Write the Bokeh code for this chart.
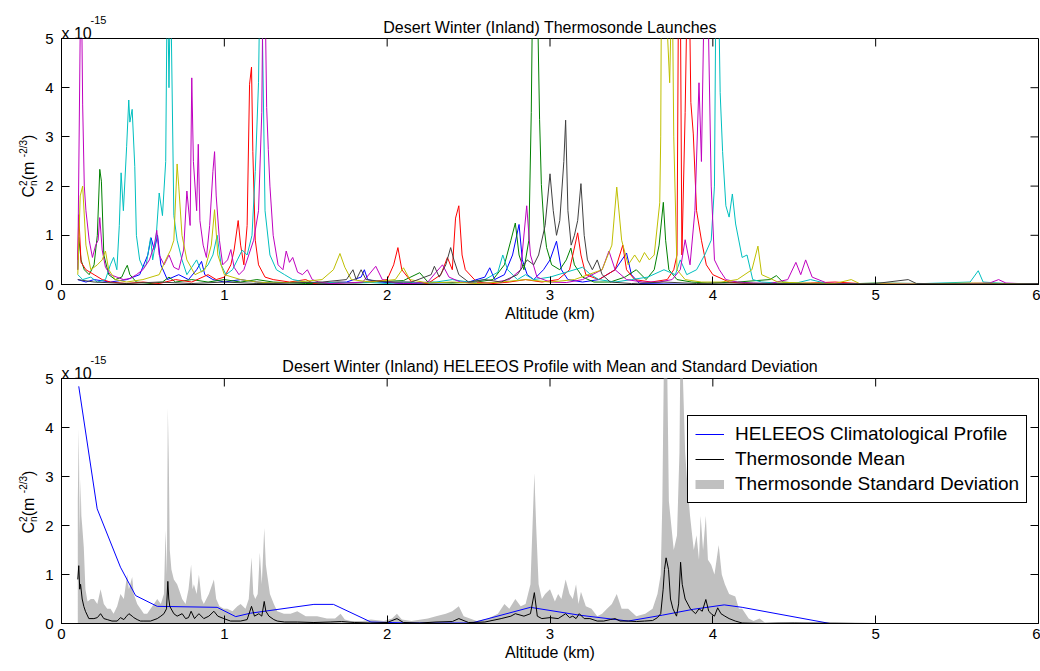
import math
from bokeh.plotting import figure
from bokeh.models import Range1d, FixedTicker, Legend, LegendItem, GridBox
from bokeh.core.properties import value
from bokeh.embed import file_html
from bokeh.resources import INLINE

# ---------------- data: (altitude km, Cn2 in units of 1e-15 m^-2/3) ----------------
TICKS_X = [0, 1, 2, 3, 4, 5, 6]
TICKS_Y = [0, 1, 2, 3, 4, 5]

TITLE_TOP = "Desert Winter (Inland) Thermosonde Launches"
TITLE_BOT = "Desert Winter (Inland) HELEEOS Profile with Mean and Standard Deviation"
X_LABEL = "Altitude (km)"

blue_launch = [(0.10,0.10),(0.15,0.05),(0.20,0.10),(0.30,0.05),(0.40,0.10),(0.48,0.20),(0.53,0.60),(0.55,0.95),(0.57,0.70),(0.59,1.00),(0.61,0.40),(0.65,0.10),(0.72,0.20),(0.78,0.10),(0.83,0.30),(0.86,0.47),(0.88,0.20),(0.93,0.10),(1.00,0.05),(1.10,0.10),(1.20,0.05),(1.30,0.02),(1.45,0.05),(1.60,0.02),(1.75,0.05),(1.84,0.15),(1.86,0.30),(1.88,0.10),(1.95,0.05),(2.10,0.02),(2.30,0.03),(2.50,0.05),(2.60,0.15),(2.63,0.34),(2.66,0.10),(2.72,0.20),(2.77,0.60),(2.81,1.22),(2.83,0.50),(2.86,0.20),(2.90,0.10),(2.96,0.30),(3.00,0.50),(3.04,0.88),(3.07,0.30),(3.11,0.10),(3.20,0.05),(3.30,0.10),(3.40,0.30),(3.47,0.64),(3.50,0.20),(3.55,0.02),(3.70,0.01),(4.00,0.00),(4.50,0.00),(5.00,0.01),(5.50,0.00),(6.00,0.01)]

green_launch = [(0.10,0.30),(0.106,0.96),(0.12,0.50),(0.14,0.30),(0.17,0.20),(0.20,0.40),(0.22,1.00),(0.235,2.34),(0.245,2.10),(0.26,0.60),(0.29,0.20),(0.33,0.10),(0.37,0.15),(0.39,0.30),(0.404,0.39),(0.42,0.20),(0.46,0.05),(0.55,0.02),(0.62,0.05),(0.66,0.15),(0.70,0.05),(0.80,0.10),(0.90,0.05),(1.00,0.10),(1.10,0.05),(1.20,0.10),(1.30,0.05),(1.50,0.02),(1.70,0.03),(1.90,0.05),(2.10,0.08),(2.20,0.24),(2.25,0.05),(2.40,0.03),(2.55,0.05),(2.65,0.10),(2.72,0.40),(2.76,0.90),(2.787,1.25),(2.81,0.60),(2.84,0.30),(2.87,0.90),(2.885,3.50),(2.895,6.50),(2.92,6.30),(2.936,3.35),(2.947,2.03),(2.964,1.15),(2.979,0.75),(3.01,0.40),(3.06,0.30),(3.10,0.50),(3.128,0.74),(3.15,0.40),(3.20,0.15),(3.27,0.05),(3.37,0.05),(3.46,0.15),(3.53,0.30),(3.59,0.10),(3.64,0.30),(3.67,0.80),(3.696,1.67),(3.71,0.90),(3.73,0.30),(3.78,0.10),(3.87,0.05),(3.97,0.03),(4.15,0.05),(4.35,0.10),(4.39,0.18),(4.43,0.05),(4.55,0.02),(4.80,0.01),(5.00,0.03),(5.30,0.02),(5.60,0.01),(6.00,0.02)]

red_launch = [(0.10,0.50),(0.106,1.42),(0.12,0.45),(0.15,0.30),(0.20,0.20),(0.25,0.10),(0.30,0.05),(0.40,0.02),(0.50,0.05),(0.60,0.02),(0.70,0.10),(0.80,0.05),(0.90,0.20),(0.95,0.10),(1.00,0.15),(1.04,0.40),(1.06,0.70),(1.085,1.30),(1.10,0.80),(1.12,0.40),(1.14,1.20),(1.155,4.07),(1.167,4.42),(1.175,2.70),(1.19,0.90),(1.21,0.40),(1.25,0.15),(1.30,0.10),(1.40,0.05),(1.50,0.10),(1.55,0.02),(1.70,0.05),(1.80,0.03),(1.90,0.05),(2.00,0.10),(2.04,0.40),(2.066,0.75),(2.09,0.30),(2.15,0.05),(2.25,0.02),(2.33,0.20),(2.37,0.55),(2.40,0.30),(2.42,1.35),(2.44,1.60),(2.46,0.60),(2.48,0.30),(2.55,0.05),(2.65,0.02),(2.75,0.05),(2.85,0.10),(2.95,0.05),(3.05,0.10),(3.12,0.30),(3.17,1.05),(3.19,0.60),(3.22,0.20),(3.30,0.10),(3.40,0.30),(3.447,0.80),(3.47,0.30),(3.52,0.10),(3.62,0.05),(3.72,0.10),(3.76,0.30),(3.78,0.60),(3.79,6.50),(3.80,6.20),(3.81,0.60),(3.83,3.50),(3.845,6.50),(3.855,6.20),(3.865,3.70),(3.88,3.06),(3.90,1.50),(3.93,0.90),(3.96,0.40),(4.00,0.20),(4.10,0.05),(4.20,0.02),(4.40,0.01),(4.60,0.03),(4.75,0.05),(4.90,0.02),(5.20,0.01),(5.50,0.02),(6.00,0.01)]

cyan_launch = [(0.10,0.20),(0.13,0.10),(0.18,0.15),(0.22,0.05),(0.27,0.10),(0.30,0.40),(0.32,0.55),(0.34,0.30),(0.355,1.20),(0.366,2.27),(0.38,1.50),(0.40,2.80),(0.413,3.75),(0.42,3.30),(0.434,3.56),(0.45,2.40),(0.46,1.00),(0.48,0.50),(0.50,0.35),(0.52,0.40),(0.547,0.95),(0.56,0.50),(0.58,0.90),(0.60,1.86),(0.62,1.40),(0.64,2.50),(0.65,6.50),(0.66,4.00),(0.67,6.20),(0.69,1.40),(0.71,0.90),(0.74,0.50),(0.77,0.20),(0.80,0.35),(0.83,0.50),(0.86,0.25),(0.90,0.40),(0.93,0.60),(0.956,1.00),(0.98,0.40),(1.01,0.20),(1.05,0.30),(1.08,0.50),(1.11,0.70),(1.14,0.60),(1.17,1.00),(1.19,2.30),(1.21,4.10),(1.22,6.50),(1.23,6.00),(1.25,1.50),(1.28,0.60),(1.32,0.30),(1.37,0.20),(1.42,0.10),(1.50,0.05),(1.60,0.03),(1.70,0.05),(1.80,0.03),(1.90,0.04),(2.00,0.02),(2.10,0.05),(2.20,0.03),(2.30,0.05),(2.40,0.10),(2.50,0.05),(2.60,0.10),(2.68,0.25),(2.71,0.60),(2.74,0.30),(2.80,0.10),(2.85,0.20),(2.90,0.10),(3.00,0.15),(3.10,0.25),(3.20,0.35),(3.25,0.20),(3.30,0.10),(3.40,0.05),(3.50,0.10),(3.60,0.15),(3.70,0.30),(3.77,0.20),(3.80,0.50),(3.84,0.20),(3.90,0.30),(3.95,0.60),(3.99,0.90),(4.01,2.00),(4.02,6.50),(4.035,6.00),(4.045,3.90),(4.06,2.70),(4.08,1.60),(4.10,1.37),(4.12,1.84),(4.14,1.23),(4.18,0.55),(4.21,0.60),(4.245,0.10),(4.30,0.05),(4.40,0.03),(4.50,0.02),(4.60,0.10),(4.70,0.02),(5.00,0.01),(5.30,0.02),(5.58,0.05),(5.63,0.28),(5.66,0.05),(5.80,0.02),(6.00,0.01)]

magenta_launch = [(0.10,0.30),(0.12,6.80),(0.13,3.65),(0.14,2.00),(0.15,1.50),(0.17,0.90),(0.19,0.55),(0.21,0.80),(0.225,0.90),(0.235,1.36),(0.25,0.70),(0.27,0.35),(0.30,0.20),(0.34,0.15),(0.38,0.10),(0.42,0.12),(0.46,0.20),(0.50,0.30),(0.54,0.50),(0.57,0.80),(0.585,1.10),(0.60,0.60),(0.63,0.40),(0.66,0.60),(0.69,0.35),(0.72,0.30),(0.75,0.70),(0.77,1.90),(0.79,1.20),(0.80,4.20),(0.81,2.50),(0.83,1.50),(0.84,2.85),(0.85,1.30),(0.87,0.80),(0.89,0.55),(0.91,1.20),(0.93,2.30),(0.94,2.70),(0.95,1.80),(0.97,0.90),(0.99,0.40),(1.02,0.50),(1.04,0.71),(1.06,0.35),(1.09,0.20),(1.12,0.30),(1.15,0.60),(1.18,0.90),(1.21,1.50),(1.23,3.50),(1.24,7.00),(1.25,6.00),(1.26,3.60),(1.27,2.74),(1.28,2.00),(1.30,1.00),(1.33,0.40),(1.36,0.30),(1.38,0.68),(1.40,0.45),(1.42,0.55),(1.45,0.25),(1.48,0.20),(1.51,0.30),(1.54,0.10),(1.58,0.05),(1.65,0.02),(1.75,0.03),(1.85,0.05),(1.93,0.37),(1.97,0.10),(2.05,0.03),(2.15,0.02),(2.25,0.05),(2.30,0.25),(2.34,0.40),(2.38,0.15),(2.45,0.05),(2.55,0.02),(2.65,0.04),(2.75,0.10),(2.82,0.30),(2.857,1.60),(2.88,0.60),(2.92,0.15),(3.00,0.05),(3.10,0.04),(3.20,0.10),(3.32,0.30),(3.362,0.68),(3.40,0.30),(3.47,0.10),(3.57,0.05),(3.67,0.05),(3.75,0.10),(3.80,0.30),(3.83,0.91),(3.86,0.40),(3.89,1.50),(3.915,4.10),(3.93,2.50),(3.95,6.50),(3.97,5.80),(3.99,2.00),(4.01,0.50),(4.04,0.30),(4.08,0.10),(4.15,0.05),(4.25,0.03),(4.35,0.02),(4.46,0.10),(4.51,0.45),(4.54,0.20),(4.57,0.50),(4.61,0.15),(4.70,0.03),(4.85,0.01),(5.05,0.02),(5.35,0.01),(5.70,0.03),(5.755,0.10),(5.80,0.03),(5.95,0.01),(6.00,0.02)]

yellow_launch = [(0.10,0.20),(0.115,1.80),(0.13,2.00),(0.15,0.80),(0.18,0.30),(0.22,0.40),(0.25,0.50),(0.27,0.68),(0.29,0.30),(0.33,0.10),(0.40,0.05),(0.50,0.10),(0.60,0.20),(0.64,0.50),(0.67,0.70),(0.69,0.90),(0.71,2.45),(0.72,2.00),(0.74,1.00),(0.77,0.50),(0.82,0.20),(0.88,0.30),(0.92,0.80),(0.94,1.52),(0.96,0.60),(1.00,0.20),(1.10,0.10),(1.20,0.05),(1.30,0.03),(1.45,0.05),(1.60,0.10),(1.67,0.30),(1.71,0.63),(1.74,0.35),(1.78,0.10),(1.90,0.05),(2.05,0.10),(2.10,0.34),(2.14,0.10),(2.25,0.03),(2.40,0.05),(2.55,0.02),(2.70,0.05),(2.85,0.10),(3.00,0.05),(3.15,0.10),(3.32,0.30),(3.38,0.80),(3.41,1.98),(3.44,0.90),(3.48,0.40),(3.52,0.60),(3.55,0.45),(3.58,0.65),(3.61,0.50),(3.64,0.60),(3.674,1.66),(3.68,3.00),(3.685,6.50),(3.70,5.80),(3.72,5.20),(3.735,4.10),(3.75,6.50),(3.76,3.00),(3.78,0.30),(3.83,0.10),(3.93,0.05),(4.05,0.05),(4.15,0.10),(4.24,0.30),(4.277,0.78),(4.30,0.20),(4.40,0.05),(4.55,0.03),(4.75,0.02),(4.85,0.10),(4.90,0.02),(5.20,0.01),(5.60,0.03),(6.00,0.01)]

gray_launch = [(0.10,0.10),(0.20,0.05),(0.40,0.02),(0.60,0.05),(0.80,0.02),(1.00,0.05),(1.20,0.02),(1.40,0.03),(1.60,0.05),(1.75,0.10),(1.79,0.30),(1.81,0.10),(1.84,0.30),(1.87,0.10),(2.00,0.05),(2.15,0.05),(2.27,0.20),(2.29,0.37),(2.32,0.15),(2.36,0.40),(2.39,0.75),(2.41,0.50),(2.44,0.20),(2.50,0.05),(2.60,0.10),(2.70,0.05),(2.80,0.20),(2.86,0.50),(2.90,0.40),(2.93,0.60),(2.97,1.20),(3.00,2.25),(3.02,1.50),(3.04,1.00),(3.06,1.30),(3.085,2.50),(3.096,3.34),(3.11,1.50),(3.13,0.80),(3.15,1.00),(3.17,1.30),(3.19,2.05),(3.21,1.00),(3.23,0.50),(3.26,0.30),(3.29,0.50),(3.32,0.20),(3.37,0.05),(3.50,0.02),(3.70,0.05),(3.90,0.02),(4.10,0.03),(4.40,0.02),(4.70,0.01),(5.00,0.02),(5.20,0.10),(5.25,0.02),(5.60,0.01),(6.00,0.02)]

std_dev = [(0.100,2.50),(0.106,3.98),(0.112,1.80),(0.117,2.95),(0.122,2.20),(0.127,2.00),(0.137,1.55),(0.147,0.70),(0.160,0.45),(0.180,0.50),(0.199,0.50),(0.220,0.40),(0.240,0.70),(0.260,0.40),(0.281,0.30),(0.301,0.30),(0.320,0.20),(0.342,0.35),(0.362,0.60),(0.383,0.50),(0.403,1.00),(0.414,0.70),(0.434,0.95),(0.444,0.60),(0.465,0.40),(0.485,0.30),(0.506,0.20),(0.526,0.20),(0.547,0.30),(0.568,0.40),(0.588,0.50),(0.610,0.40),(0.629,0.60),(0.639,1.90),(0.647,1.00),(0.653,4.40),(0.659,3.30),(0.665,1.50),(0.675,1.10),(0.690,0.90),(0.710,0.80),(0.721,0.70),(0.741,0.50),(0.762,0.40),(0.780,0.70),(0.796,1.20),(0.805,0.70),(0.813,0.80),(0.830,0.60),(0.844,1.00),(0.860,0.50),(0.874,0.40),(0.905,0.60),(0.936,0.90),(0.950,0.50),(0.970,0.35),(0.997,0.30),(1.018,0.30),(1.050,0.25),(1.080,0.35),(1.100,0.40),(1.130,0.30),(1.150,0.50),(1.167,1.35),(1.178,0.60),(1.190,0.50),(1.205,0.60),(1.218,1.45),(1.230,0.80),(1.245,1.95),(1.255,1.20),(1.263,1.00),(1.280,0.60),(1.304,0.40),(1.325,0.25),(1.366,0.20),(1.407,0.20),(1.448,0.25),(1.500,0.15),(1.570,0.15),(1.630,0.10),(1.680,0.10),(1.714,0.20),(1.740,0.08),(1.775,0.05),(1.850,0.05),(1.900,0.08),(1.980,0.05),(2.030,0.10),(2.060,0.20),(2.090,0.08),(2.150,0.05),(2.250,0.10),(2.300,0.15),(2.360,0.20),(2.400,0.25),(2.440,0.35),(2.470,0.15),(2.550,0.05),(2.620,0.10),(2.680,0.20),(2.720,0.40),(2.750,0.30),(2.787,0.50),(2.820,0.35),(2.850,0.40),(2.880,0.80),(2.904,3.07),(2.915,2.00),(2.930,0.80),(2.950,0.50),(2.970,0.60),(3.000,0.70),(3.030,0.45),(3.050,0.60),(3.070,0.50),(3.096,0.90),(3.120,0.60),(3.140,0.50),(3.160,0.80),(3.175,0.40),(3.190,0.65),(3.220,0.35),(3.255,0.30),(3.290,0.15),(3.320,0.20),(3.350,0.30),(3.380,0.40),(3.410,0.60),(3.440,0.30),(3.480,0.30),(3.530,0.15),(3.585,0.20),(3.630,0.30),(3.660,0.60),(3.680,1.00),(3.690,2.50),(3.700,5.50),(3.710,6.00),(3.720,5.20),(3.730,2.50),(3.745,2.00),(3.760,1.50),(3.780,1.80),(3.795,3.50),(3.802,6.00),(3.812,5.50),(3.830,3.50),(3.840,3.00),(3.860,2.20),(3.883,1.50),(3.900,1.80),(3.915,1.30),(3.925,2.20),(3.940,1.50),(3.957,2.20),(3.970,1.30),(3.990,1.20),(4.010,1.00),(4.036,1.60),(4.055,1.00),(4.074,0.80),(4.100,0.60),(4.138,0.55),(4.160,0.30),(4.180,0.30),(4.220,0.10),(4.250,0.05),(4.287,0.10),(4.320,0.02),(4.400,0.03),(4.550,0.01),(4.750,0.02),(5.000,0.00),(5.600,0.01),(6.000,0.00)]

thermo_mean = [(0.100,0.90),(0.106,1.18),(0.112,0.70),(0.117,0.80),(0.127,0.50),(0.137,0.35),(0.147,0.25),(0.168,0.10),(0.199,0.10),(0.220,0.12),(0.240,0.20),(0.260,0.10),(0.281,0.08),(0.310,0.05),(0.342,0.05),(0.362,0.12),(0.383,0.08),(0.400,0.15),(0.414,0.20),(0.434,0.15),(0.444,0.12),(0.465,0.08),(0.485,0.05),(0.506,0.05),(0.547,0.05),(0.588,0.10),(0.610,0.15),(0.629,0.20),(0.645,0.30),(0.653,0.86),(0.659,0.50),(0.665,0.35),(0.690,0.20),(0.710,0.15),(0.741,0.20),(0.762,0.10),(0.780,0.12),(0.796,0.25),(0.817,0.10),(0.830,0.15),(0.844,0.20),(0.874,0.10),(0.905,0.15),(0.936,0.25),(0.960,0.15),(0.997,0.10),(1.038,0.05),(1.100,0.05),(1.140,0.08),(1.167,0.35),(1.185,0.15),(1.212,0.20),(1.230,0.15),(1.245,0.45),(1.255,0.25),(1.274,0.15),(1.304,0.08),(1.325,0.05),(1.370,0.03),(1.450,0.03),(1.550,0.02),(1.650,0.03),(1.720,0.04),(1.800,0.02),(1.900,0.01),(2.000,0.02),(2.060,0.10),(2.100,0.02),(2.200,0.01),(2.300,0.03),(2.400,0.04),(2.440,0.10),(2.500,0.02),(2.600,0.03),(2.700,0.10),(2.760,0.15),(2.787,0.20),(2.840,0.15),(2.880,0.20),(2.904,0.63),(2.922,0.15),(2.950,0.10),(3.000,0.12),(3.050,0.10),(3.096,0.20),(3.120,0.12),(3.140,0.15),(3.160,0.10),(3.180,0.20),(3.210,0.10),(3.245,0.10),(3.290,0.05),(3.330,0.05),(3.370,0.08),(3.400,0.10),(3.430,0.05),(3.480,0.05),(3.530,0.04),(3.580,0.05),(3.630,0.06),(3.660,0.12),(3.680,0.20),(3.695,0.70),(3.703,1.10),(3.713,1.34),(3.728,1.10),(3.740,0.50),(3.755,0.30),(3.777,0.15),(3.790,0.40),(3.802,1.25),(3.812,0.80),(3.830,0.50),(3.862,0.30),(3.894,0.20),(3.915,0.30),(3.935,0.25),(3.957,0.49),(3.975,0.25),(3.990,0.20),(4.010,0.15),(4.030,0.32),(4.050,0.20),(4.074,0.15),(4.100,0.10),(4.138,0.05),(4.180,0.01),(4.300,0.00),(4.500,0.01),(5.000,0.00),(6.000,0.00)]

heleeos = [(0.106,4.84),(0.219,2.34),(0.362,1.15),(0.455,0.57),(0.588,0.35),(0.956,0.33),(1.070,0.14),(1.160,0.21),(1.550,0.39),(1.670,0.39),(1.900,0.03),(2.140,0.01),(2.520,0.01),(2.880,0.33),(3.180,0.17),(3.480,0.05),(3.690,0.17),(3.880,0.29),(4.070,0.38),(4.180,0.33),(4.720,0.00)]

LEGEND_LABELS = ["HELEEOS Climatological Profile", "Thermosonde Mean", "Thermosonde Standard Deviation"]

launches = [(blue_launch, "#0000FF"), (green_launch, "#008000"), (red_launch, "#FF0000"),
            (cyan_launch, "#00BFBF"), (magenta_launch, "#BF00BF"), (yellow_launch, "#BFBF00"),
            (gray_launch, "#404040")]

STD_GRAY = "#C0C0C0"

# ---------------- layout constants (page pixels) ----------------
FONT = "Liberation Sans"
PAGE_W, PAGE_H = 1040, 671
FL, FR = 61, 1038                 # frame left / right edges
FW = FR - FL
P1_H, P1_T, P1_B = 336, 38, 52    # top panel: frame 38..284
P2_H, P2_T, P2_B = 335, 42, 48    # bottom panel: frame 378..623
FH1 = P1_H - P1_T - P1_B
FH2 = P2_H - P2_T - P2_B


def split(pairs):
    return [a for a, _ in pairs], [v for _, v in pairs]


def main_fig(h, bt, bb, fh):
    p = figure(width=PAGE_W, height=h, x_range=Range1d(0, 6), y_range=Range1d(0, 5),
               output_backend="svg", toolbar_location=None,
               min_border_left=FL, min_border_right=PAGE_W - FR, min_border_top=bt,
               min_border_bottom=bb, background_fill_color="white", border_fill_color="white")
    p.grid.visible = False
    p.outline_line_color = "black"
    p.outline_line_alpha = 1.0
    p.outline_line_width = 1
    p.xaxis.ticker = FixedTicker(ticks=TICKS_X)
    p.yaxis.ticker = FixedTicker(ticks=TICKS_Y)
    for ax in (p.xaxis[0], p.yaxis[0]):
        ax.major_tick_in = 8
        ax.major_tick_out = 0
        ax.minor_tick_in = 0
        ax.minor_tick_out = 0
        ax.axis_line_color = "black"
        ax.major_tick_line_color = "black"
        ax.major_label_text_font = FONT
        ax.major_label_text_font_size = "15px"
        ax.major_label_text_color = "black"
    p.xaxis.major_label_standoff = 5
    p.yaxis.major_label_standoff = 8
    p.xaxis.axis_label = X_LABEL
    p.xaxis.axis_label_text_font = FONT
    p.xaxis.axis_label_text_font_size = "16px"
    p.xaxis.axis_label_text_font_style = "normal"
    p.xaxis.axis_label_text_color = "black"
    p.xaxis.axis_label_standoff = 2
    # inward ticks on the top and right edges of the box
    sx = 6.0 / FW
    sy = 5.0 / fh
    tx = TICKS_X[1:-1]
    ty = TICKS_Y[1:-1]
    p.segment(x0=tx, y0=[TICKS_Y[-1]] * len(tx), x1=tx, y1=[TICKS_Y[-1] - 8 * sy] * len(tx),
              line_color="black", line_width=1)
    p.segment(x0=[TICKS_X[-1]] * len(ty), y0=ty, x1=[TICKS_X[-1] - 8 * sx] * len(ty), y1=ty,
              line_color="black", line_width=1)
    return p


# ---------------- top chart ----------------
p1 = main_fig(P1_H, P1_T, P1_B, FH1)
for pairs, col in launches:
    xs, ys = split(pairs)
    p1.line(xs, ys, line_color=col, line_width=1)

# ---------------- bottom chart ----------------
p2 = main_fig(P2_H, P2_T, P2_B, FH2)
sx_, sv_ = split(std_dev)
std_r = p2.varea(x=sx_, y1=[0] * len(sx_), y2=sv_, fill_color=STD_GRAY, fill_alpha=1.0)
hx, hv = split(heleeos)
hel_r = p2.line(hx, hv, line_color="#0000FF", line_width=1)
mx, mv = split(thermo_mean)
mean_r = p2.line(mx, mv, line_color="black", line_width=1)
std_key = p2.line(sx_[:1], sv_[:1], line_color=STD_GRAY, line_width=9)

legend = Legend(items=[LegendItem(label=LEGEND_LABELS[0], renderers=[hel_r]),
                       LegendItem(label=LEGEND_LABELS[1], renderers=[mean_r]),
                       LegendItem(label=LEGEND_LABELS[2], renderers=[std_key])],
                location=(687 - FL, 120), orientation="vertical",
                label_text_font=FONT, label_text_font_size="19px", label_text_color="black",
                glyph_width=29, glyph_height=20, label_height=20, label_standoff=11,
                spacing=3, padding=7, margin=0,
                border_line_color="black", border_line_width=1, border_line_alpha=1.0,
                background_fill_color="white", background_fill_alpha=1.0)
p2.add_layout(legend)

# ---------------- transparent text overlay (titles, exponent, y labels) ----------------
ov = figure(width=PAGE_W, height=PAGE_H, x_range=Range1d(0, PAGE_W), y_range=Range1d(PAGE_H, 0),
            output_backend="svg", toolbar_location=None, x_axis_type=None, y_axis_type=None,
            min_border=0, min_border_left=0, min_border_right=0, min_border_top=0,
            min_border_bottom=0, background_fill_color=None, border_fill_color=None)
ov.outline_line_color = None
ov.grid.visible = False
ov.frame_align = False


def put(x, y, t, size, align="left", angle=0.0):
    ov.text(x=[x], y=[y], text=[t], angle=angle, text_align=align, text_baseline="alphabetic",
            text_font=value(FONT), text_font_size=value(f"{size}px"), text_color="black")


cx = (FL + FR) / 2
for title, base, frame_top in ((TITLE_TOP, 27, 38), (TITLE_BOT, 366, 378)):
    put(cx, base, title, 16, align="center")
    put(FL, frame_top - 5, "x 10", 16)
    put(FL + 29, frame_top - 19, "-15", 11)

for start in (197, 533):
    pieces = [("C", 16, 28.0, 0.0), ("2", 10, 22.5, 11.6), ("n", 10, 32.5, 11.6),
              (" (m", 16, 28.0, 17.2), ("-2/3", 10, 22.5, 40.3), (")", 16, 28.0, 57.5)]
    for t, fs, bx, dy in pieces:
        put(bx, start - dy, t, fs, angle=math.pi / 2)

grid = GridBox(children=[(p1, 0, 0), (p2, 1, 0), (ov, 0, 0, 2, 1)])
open("out.html", "w").write(file_html(grid, INLINE))
